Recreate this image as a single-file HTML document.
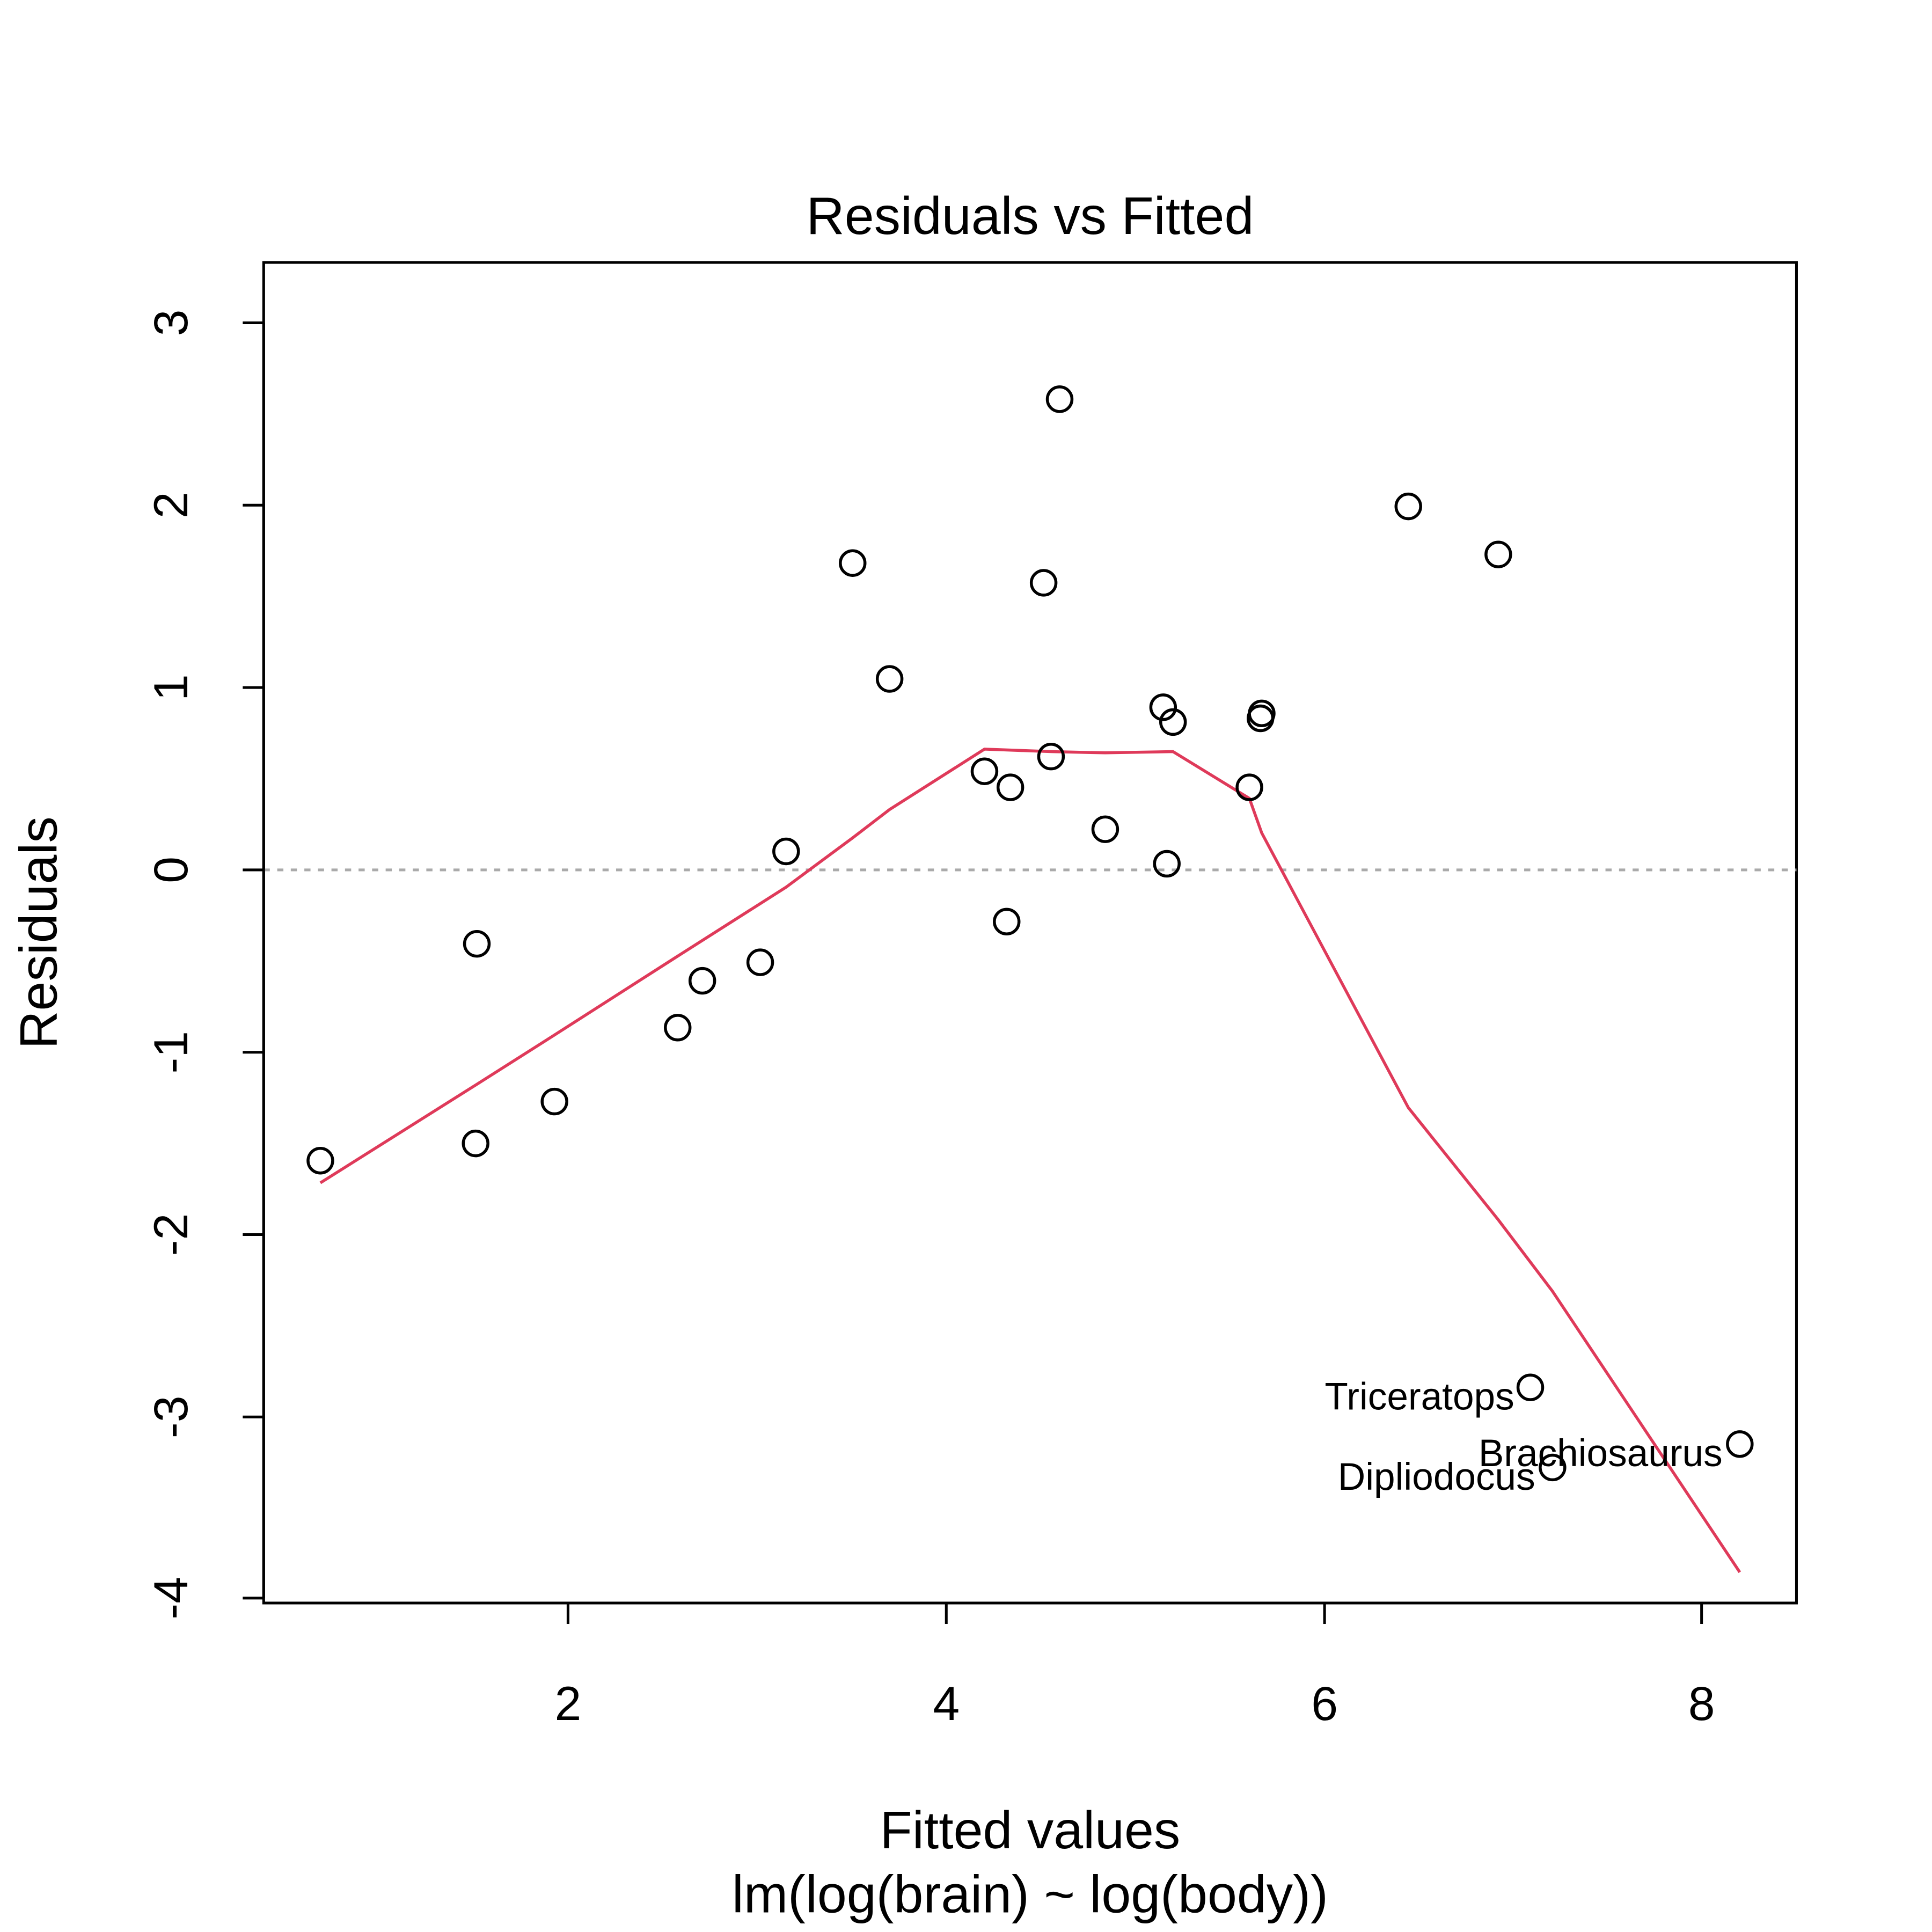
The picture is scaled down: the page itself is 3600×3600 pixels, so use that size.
<!DOCTYPE html>
<html><head><meta charset="utf-8"><style>html,body{margin:0;padding:0;background:#fff}svg{display:block}</style></head>
<body>
<svg width="3600" height="3600" viewBox="0 0 1568 1568" xmlns="http://www.w3.org/2000/svg" font-family="Liberation Sans, Arial, sans-serif">
<rect width="1568" height="1568" fill="#fff"/>
<rect x="214" y="213" width="1244" height="1088" fill="none" stroke="#000" stroke-width="2.2"/>
<line x1="214" y1="706" x2="1458" y2="706" stroke="#aaa" stroke-width="2.2" stroke-dasharray="5,6"/>
<g stroke="#000" stroke-width="2.2">
<line x1="461" y1="1301" x2="1381" y2="1301"/>
<line x1="461" y1="1301" x2="461" y2="1318"/><line x1="768" y1="1301" x2="768" y2="1318"/>
<line x1="1075" y1="1301" x2="1075" y2="1318"/><line x1="1381" y1="1301" x2="1381" y2="1318"/>
<line x1="214" y1="262" x2="214" y2="1297"/>
<line x1="197" y1="262" x2="214" y2="262"/><line x1="197" y1="410" x2="214" y2="410"/>
<line x1="197" y1="558" x2="214" y2="558"/><line x1="197" y1="706" x2="214" y2="706"/>
<line x1="197" y1="854" x2="214" y2="854"/><line x1="197" y1="1002" x2="214" y2="1002"/>
<line x1="197" y1="1150" x2="214" y2="1150"/><line x1="197" y1="1297" x2="214" y2="1297"/>
</g>
<g font-size="39" text-anchor="middle" fill="#000">
<text x="461" y="1396">2</text><text x="768" y="1396">4</text><text x="1075" y="1396">6</text><text x="1381" y="1396">8</text>
<text transform="translate(152,262) rotate(-90)">3</text>
<text transform="translate(152,410) rotate(-90)">2</text>
<text transform="translate(152,558) rotate(-90)">1</text>
<text transform="translate(152,706) rotate(-90)">0</text>
<text transform="translate(152,854) rotate(-90)">-1</text>
<text transform="translate(152,1002) rotate(-90)">-2</text>
<text transform="translate(152,1150) rotate(-90)">-3</text>
<text transform="translate(152,1297) rotate(-90)">-4</text>
<text x="836" y="190" font-size="43">Residuals vs Fitted</text>
<text x="836" y="1500" font-size="43">Fitted values</text>
<text x="836" y="1552" font-size="43">lm(log(brain) ~ log(body))</text>
<text transform="translate(46,757) rotate(-90)" font-size="43">Residuals</text>
</g>
<polyline fill="none" stroke="#DF3A5A" stroke-width="2.4" points="260,960 387,880 450,840 550,776 638,720 692,680 722,657 799,608 853,610 897,611 952,610 1014,648 1024,676 1143,899 1216,990 1260,1048 1412,1276"/>
<g fill="none" stroke="#000" stroke-width="2.4">
<circle cx="260" cy="942" r="10"/><circle cx="387" cy="766" r="10"/><circle cx="386" cy="928" r="10"/>
<circle cx="450" cy="894" r="10"/><circle cx="550" cy="834" r="10"/><circle cx="570" cy="796" r="10"/>
<circle cx="617" cy="781" r="10"/><circle cx="638" cy="691" r="10"/><circle cx="692" cy="457" r="10"/>
<circle cx="722" cy="551" r="10"/><circle cx="799" cy="626" r="10"/><circle cx="820" cy="639" r="10"/>
<circle cx="817" cy="748" r="10"/><circle cx="847" cy="473" r="10"/><circle cx="853" cy="614" r="10"/>
<circle cx="860" cy="324" r="10"/><circle cx="897" cy="673" r="10"/><circle cx="944" cy="574" r="10"/>
<circle cx="952" cy="586" r="10"/><circle cx="947" cy="701" r="10"/><circle cx="1014" cy="639" r="10"/>
<circle cx="1023" cy="583" r="10"/><circle cx="1024" cy="579" r="10"/><circle cx="1143" cy="411" r="10"/>
<circle cx="1216" cy="450" r="10"/><circle cx="1242" cy="1126" r="10"/><circle cx="1260" cy="1191" r="10"/>
<circle cx="1412" cy="1172" r="10"/>
</g>
<g font-size="31" fill="#000" text-anchor="end">
<text x="1229" y="1144">Triceratops</text>
<text x="1246" y="1209">Dipliodocus</text>
<text x="1398" y="1190">Brachiosaurus</text>
</g>
</svg>
</body></html>
